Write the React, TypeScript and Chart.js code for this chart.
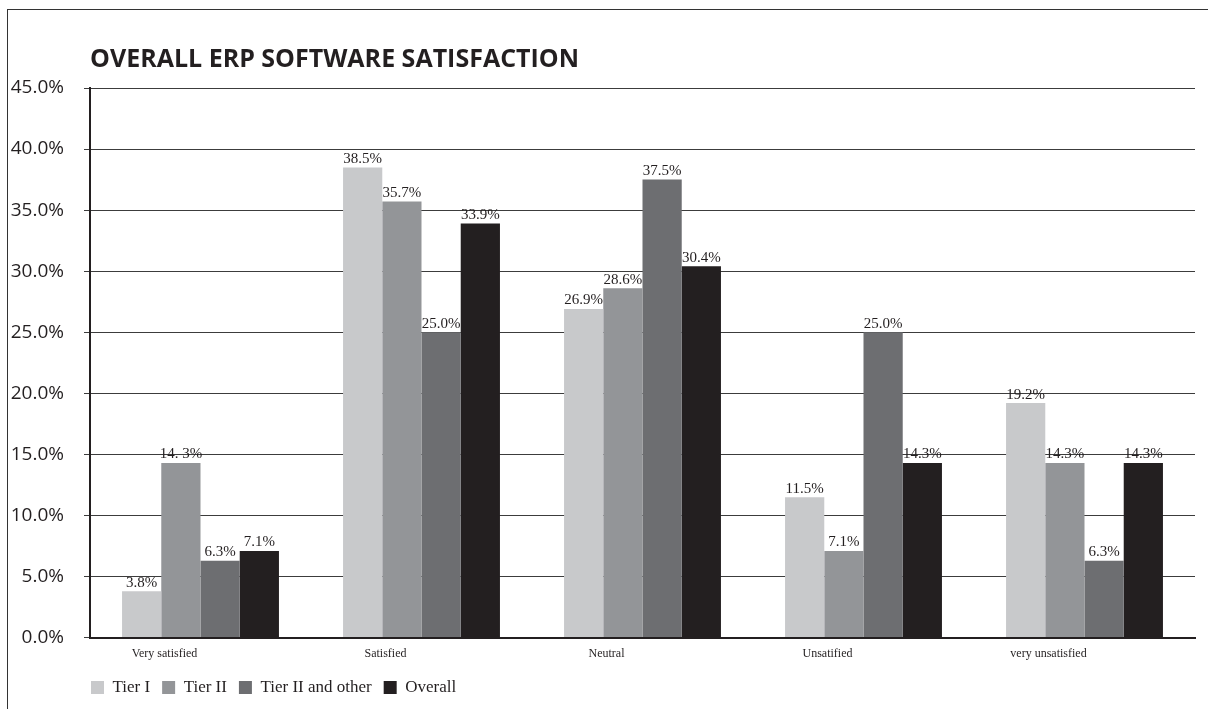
import { useEffect, useRef } from 'react';
import { Chart, registerables } from 'chart.js';

Chart.register(...registerables);

const chartTitle = 'OVERALL ERP SOFTWARE SATISFACTION';
const categories = ['Very satisfied', 'Satisfied', 'Neutral', 'Unsatified', 'very unsatisfied'];
const seriesNames = ['Tier I', 'Tier II', 'Tier II and other', 'Overall'];
const tier1 = [3.8, 38.5, 26.9, 11.5, 19.2];
const tier2 = [14.3, 35.7, 28.6, 7.1, 14.3];
const tier2Other = [6.3, 25.0, 37.5, 25.0, 6.3];
const overall = [7.1, 33.9, 30.4, 14.3, 14.3];
const tier1Labels = ['3.8%', '38.5%', '26.9%', '11.5%', '19.2%'];
const tier2Labels = ['14. 3%', '35.7%', '28.6%', '7.1%', '14.3%'];
const tier2OtherLabels = ['6.3%', '25.0%', '37.5%', '25.0%', '6.3%'];
const overallLabels = ['7.1%', '33.9%', '30.4%', '14.3%', '14.3%'];
const seriesColors = ['#c8c9cb', '#939598', '#6d6e71', '#231f20'];
const yMax = 45;
const yStep = 5;

const seriesValues = [tier1, tier2, tier2Other, overall];
const seriesLabels = [tier1Labels, tier2Labels, tier2OtherLabels, overallLabels];

const dataLabelPlugin = {
  id: 'dataLabels',
  afterDatasetsDraw(chart: any) {
    const ctx = chart.ctx;
    ctx.save();
    ctx.font = '15px "Liberation Serif", "Times New Roman", serif';
    ctx.fillStyle = '#231f20';
    ctx.textAlign = 'center';
    ctx.textBaseline = 'bottom';
    chart.data.datasets.forEach((ds: any, i: number) => {
      const meta = chart.getDatasetMeta(i);
      meta.data.forEach((bar: any, j: number) => {
        const text = ds.valueLabels[j];
        ctx.fillText(text, bar.x, bar.y - 1);
      });
    });
    ctx.restore();
  },
};

const legendShiftPlugin = {
  id: 'legendShift',
  afterLayout(chart: any) {
    const lg = chart.legend;
    if (!lg) return;
    lg.left -= 11;
    lg.right -= 11;
    lg.top -= 3;
    lg.bottom -= 3;
  },
};

export default function App() {
  const canvasRef = useRef<HTMLCanvasElement | null>(null);

  useEffect(() => {
    if (!canvasRef.current) return;
    const chart = new Chart(canvasRef.current, {
      type: 'bar',
      data: {
        labels: categories,
        datasets: seriesNames.map((name, i) => ({
          label: name,
          data: seriesValues[i],
          valueLabels: seriesLabels[i],
          backgroundColor: seriesColors[i],
          borderWidth: 0,
          categoryPercentage: 0.71,
          barPercentage: 1,
        })) as any,
      },
      options: {
        responsive: true,
        maintainAspectRatio: false,
        animation: false,
        layout: { padding: { top: 3, right: 13, bottom: 0, left: 0 } },
        plugins: {
          title: {
            display: true,
            text: chartTitle,
            align: 'start',
            fullSize: false,
            color: '#231f20',
            font: { family: '"Open Sans", sans-serif', size: 25, weight: 'bold' },
            padding: { top: 42, bottom: 13 },
          },
          legend: {
            display: true,
            position: 'bottom',
            align: 'start',
            fullSize: false,
            labels: {
              boxWidth: 13,
              boxHeight: 13,
              padding: 12,
              color: '#231f20',
              font: { family: '"Liberation Serif", "Times New Roman", serif', size: 17 },
            },
          },
          tooltip: { enabled: false },
        },
        scales: {
          x: {
            grid: { display: false, drawTicks: false },
            border: { display: true, color: '#231f20', width: 2 },
            ticks: {
              color: '#231f20',
              padding: 9,
              labelOffset: -36,
              font: { family: '"Liberation Serif", "Times New Roman", serif', size: 12 },
            },
          },
          y: {
            min: 0,
            max: yMax,
            afterFit: (scale: any) => {
              scale.width = 90;
            },
            grid: { color: '#3c3c3c', lineWidth: 1, tickLength: 6, drawTicks: true },
            border: { display: true, color: '#231f20', width: 2 },
            ticks: {
              stepSize: yStep,
              padding: 20,
              color: '#231f20',
              font: { family: '"Open Sans", sans-serif', size: 19 },
              callback: (v: any) => Number(v).toFixed(1) + '%',
            },
          },
        },
      },
      plugins: [dataLabelPlugin, legendShiftPlugin],
    });
    return () => chart.destroy();
  }, []);

  return (
    <div
      style={{
        position: 'fixed',
        left: 0,
        top: 0,
        width: 1208,
        height: 709,
        overflow: 'hidden',
        background: '#ffffff',
      }}
    >
      <div
        style={{
          position: 'absolute',
          left: 7,
          top: 9,
          width: 1260,
          height: 760,
          border: '1px solid #333333',
        }}
      />
      <div style={{ position: 'absolute', left: 0, top: 0, width: 1208, height: 709 }}>
        <canvas ref={canvasRef} />
      </div>
    </div>
  );
}
